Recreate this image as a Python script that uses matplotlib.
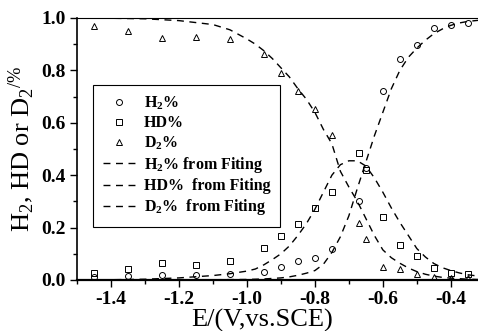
import matplotlib
matplotlib.use("Agg")
import matplotlib.pyplot as plt
from matplotlib.ticker import MultipleLocator, FormatStrFormatter

plt.rcParams['font.family'] = ['Liberation Serif', 'DejaVu Serif']
plt.rcParams['mathtext.fontset'] = 'custom'
plt.rcParams['mathtext.rm'] = 'Liberation Serif'
plt.rcParams['mathtext.it'] = 'Liberation Serif:italic'
plt.rcParams['mathtext.bf'] = 'Liberation Serif:bold'

# Measured data
x_h2 = [-1.45, -1.35, -1.25, -1.15, -1.05, -0.95, -0.9, -0.85, -0.8, -0.75, -0.67, -0.65,
        -0.6, -0.55, -0.5, -0.45, -0.4, -0.35]
y_h2 = [0.010, 0.015, 0.019, 0.019, 0.022, 0.032, 0.048, 0.074, 0.085, 0.118, 0.303, 0.426,
        0.723, 0.842, 0.897, 0.960, 0.973, 0.980]

x_hd = [-1.45, -1.35, -1.25, -1.15, -1.05, -0.95, -0.9, -0.85, -0.8, -0.75, -0.67, -0.65,
        -0.6, -0.55, -0.5, -0.45, -0.4, -0.35]
y_hd = [0.028, 0.041, 0.066, 0.058, 0.074, 0.122, 0.168, 0.213, 0.276, 0.337, 0.486, 0.420,
        0.239, 0.134, 0.092, 0.047, 0.025, 0.023]

x_d2 = [-1.45, -1.35, -1.25, -1.15, -1.05, -0.95, -0.9, -0.85, -0.8, -0.75, -0.67, -0.65,
        -0.6, -0.55, -0.5, -0.45, -0.4, -0.35]
y_d2 = [0.971, 0.952, 0.924, 0.929, 0.919, 0.861, 0.791, 0.721, 0.651, 0.553, 0.219, 0.155,
        0.048, 0.041, 0.023, 0.013, 0.006, 0.006]

# Fitted curves
x_fit = [-1.5, -1.4, -1.3, -1.2, -1.1, -1.05, -1.0, -0.975, -0.95, -0.925, -0.9, -0.875,
         -0.85, -0.825, -0.8, -0.775, -0.75, -0.725, -0.7, -0.675, -0.65, -0.625, -0.6,
         -0.575, -0.55, -0.525, -0.5, -0.475, -0.45, -0.425, -0.4, -0.375, -0.35, -0.32]
fit_h2 = [0.0, 0.0, 0.0003, 0.0005, 0.001, 0.0015, 0.002, 0.003, 0.004, 0.006, 0.008, 0.012,
          0.018, 0.026, 0.036, 0.060, 0.105, 0.165, 0.245, 0.350, 0.450, 0.550, 0.640,
          0.730, 0.800, 0.850, 0.885, 0.915, 0.940, 0.958, 0.972, 0.981, 0.987, 0.991]
fit_hd = [0.0, 0.001, 0.003, 0.008, 0.017, 0.024, 0.034, 0.042, 0.058, 0.078, 0.100, 0.130,
          0.170, 0.215, 0.270, 0.335, 0.400, 0.440, 0.455, 0.455, 0.435, 0.390, 0.335,
          0.275, 0.220, 0.170, 0.120, 0.088, 0.063, 0.047, 0.036, 0.027, 0.020, 0.015]
fit_d2 = [1.0, 0.999, 0.997, 0.990, 0.975, 0.955, 0.920, 0.900, 0.875, 0.845, 0.810, 0.775,
          0.730, 0.690, 0.640, 0.575, 0.520, 0.415, 0.355, 0.300, 0.235, 0.170, 0.115,
          0.085, 0.064, 0.046, 0.032, 0.022, 0.015, 0.010, 0.007, 0.005, 0.003, 0.002]

fig = plt.figure(figsize=(4.78, 3.31), dpi=100)
ax = fig.add_axes([77/478, 51/331, 401/478, 262/331])

mk = dict(linestyle='none', markerfacecolor='none', markeredgecolor='black',
          markeredgewidth=0.7, markersize=4.3)
ax.plot(x_h2, y_h2, marker='o', label='H$_\\mathbf{2}$%', **mk)
ax.plot(x_hd, y_hd, marker='s', label='HD%', **mk)
ax.plot(x_d2, y_d2, marker='^', label='D$_\\mathbf{2}$%', **mk)

ls = dict(color='black', linewidth=1.0, dashes=(5, 4))
ax.plot(x_fit, fit_h2, label='H$_\\mathbf{2}$% from Fiting', **ls)
ax.plot(x_fit, fit_hd, label='HD%  from Fiting', **ls)
ax.plot(x_fit, fit_d2, label='D$_\\mathbf{2}$%  from Fiting', **ls)

ax.set_xlim(-1.5, -0.32)
ax.set_ylim(0.0, 1.0)
ax.xaxis.set_major_locator(MultipleLocator(0.2))
ax.xaxis.set_minor_locator(MultipleLocator(0.1))
ax.yaxis.set_major_locator(MultipleLocator(0.2))
ax.yaxis.set_minor_locator(MultipleLocator(0.1))
ax.xaxis.set_major_formatter(FormatStrFormatter('%.1f'))
ax.yaxis.set_major_formatter(FormatStrFormatter('%.1f'))
ax.tick_params(which='major', direction='out', length=5, width=1.0, labelsize=14, pad=3)
ax.tick_params(which='minor', direction='out', length=3, width=1.0)
ax.tick_params(top=False, right=False)
for lab in ax.get_xticklabels() + ax.get_yticklabels():
    lab.set_fontweight('bold')

ax.spines['right'].set_visible(False)
ax.spines['top'].set_linewidth(0.8)
ax.spines['left'].set_linewidth(1.2)
ax.spines['bottom'].set_linewidth(1.6)

ax.set_xlabel('E/(V,vs.SCE)', fontsize=19, labelpad=0, va='center')
ax.xaxis.set_label_coords(0.461, -0.155)
ax.set_ylabel('H$_2$, HD or D$_2$$^{/\\%}$', fontsize=19, labelpad=4)

leg = ax.legend(loc='upper left', bbox_to_anchor=(0.04, 0.744), borderaxespad=0,
                fancybox=False, edgecolor='black', framealpha=1, frameon=True,
                prop={'family': 'Liberation Serif', 'weight': 'bold', 'size': 11.5},
                handlelength=2.0, labelspacing=0.2, borderpad=0.6, handletextpad=0.6)
leg.get_frame().set_linewidth(0.8)

fig.savefig('out.png', dpi=100)
